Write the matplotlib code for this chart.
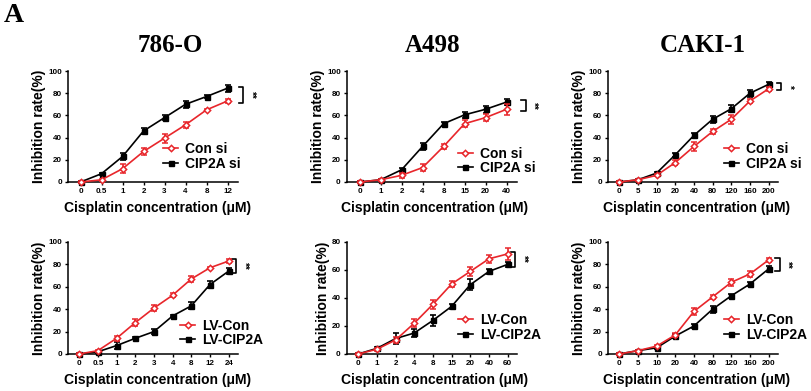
import numpy as np
import matplotlib.pyplot as plt
import matplotlib.transforms as mtransforms
from matplotlib.lines import Line2D

# ---- data ----
x_786 = ["0", "0.5", "1", "2", "3", "4", "8", "12"]
con_786 = [0, 2, 12, 27.5, 39.5, 51.5, 65, 73]
con_786_err = [0.5, 1, 4, 3, 4, 3, 1, 2]
cip_786 = [0, 7.5, 23, 46, 58, 70, 77, 84.5]
cip_786_err = [0.5, 1, 3, 3, 2, 3, 1, 3]

x_a498 = ["0", "1", "2", "4", "8", "15", "20", "40"]
con_a498 = [0, 2, 6, 13, 32, 52.5, 58, 65.5]
con_a498_err = [0.5, 1, 2, 3, 2, 3, 3, 5]
cip_a498 = [0, 2, 11, 32, 52.5, 60.5, 65.5, 72]
cip_a498_err = [0.5, 1, 2, 3, 2, 3, 3, 3]

x_caki = ["0", "5", "10", "20", "40", "80", "120", "160", "200"]
con_caki = [0, 2, 6, 17.5, 32, 45.5, 56.5, 73, 84]
con_caki_err = [0.5, 1, 1, 2, 4, 2, 4, 2, 2]
cip_caki = [0, 2, 8, 24.5, 42, 56.5, 66, 80, 88]
cip_caki_err = [0.5, 1, 1, 2, 2, 3, 3, 3, 2]

x_786_lv = ["0", "0.5", "1", "2", "3", "4", "8", "12", "24"]
lvcon_786 = [0, 3, 14, 28, 41, 52.5, 67, 77, 83]
lvcon_786_err = [0.5, 1, 2, 3, 3, 2, 3, 1, 2]
lvcip_786 = [0, 2, 7.5, 14, 20, 34, 43, 62, 74]
lvcip_786_err = [0.5, 1, 3, 1, 2, 1, 3, 3, 3]

x_a498_lv = ["0", "1", "2", "4", "8", "15", "20", "40", "60"]
lvcon_a498 = [0, 3.4, 10, 22, 35.5, 50, 59, 68, 71.5]
lvcon_a498_err = [0.5, 1, 2, 3, 3, 2, 3, 3, 4]
lvcip_a498 = [0, 4, 11, 15, 24, 34, 49.5, 59, 64]
lvcip_a498_err = [0.5, 1, 4, 3, 4, 2, 4, 2, 2]

x_caki_lv = ["0", "5", "10", "20", "40", "80", "120", "160", "200"]
lvcon_caki = [0, 3, 7, 17, 38, 51, 64, 71.5, 84]
lvcon_caki_err = [0.5, 1, 1, 2, 3, 2, 3, 3, 2]
lvcip_caki = [0, 3, 5.5, 16, 25, 40, 52, 62.5, 76]
lvcip_caki_err = [0.5, 1, 1, 2, 2, 3, 2, 2, 3]

titles = ["786-O", "A498", "CAKI-1"]
labels_si = ["Con si", "CIP2A si"]
labels_lv = ["LV-Con", "LV-CIP2A"]
stars = [["**", "**", "*"], ["**", "**", "**"]]

RED = "#e8262b"
W, H = 811, 391

fig = plt.figure(figsize=(W / 100, H / 100), dpi=100)
plt.rcParams["font.family"] = ["Liberation Sans", "DejaVu Sans"]

lefts = [68, 347, 608]
rows = [(182, 111), (354, 112)]
axw = 170

panels = [
    [(x_786, con_786, con_786_err, cip_786, cip_786_err, 100),
     (x_a498, con_a498, con_a498_err, cip_a498, cip_a498_err, 100),
     (x_caki, con_caki, con_caki_err, cip_caki, cip_caki_err, 100)],
    [(x_786_lv, lvcon_786, lvcon_786_err, lvcip_786, lvcip_786_err, 100),
     (x_a498_lv, lvcon_a498, lvcon_a498_err, lvcip_a498, lvcip_a498_err, 80),
     (x_caki_lv, lvcon_caki, lvcon_caki_err, lvcip_caki, lvcip_caki_err, 100)],
]

# legend anchor (axes fraction), bracket x -- per panel
leg_pos = [[(0.56, 0.10), (0.65, 0.06), (0.68, 0.10)],
           [(0.66, 0.06), (0.65, 0.11), (0.68, 0.11)]]
brk_x = [[1.03, 1.05, 1.02], [0.99, 0.99, 1.01]]
xlab_cx = [[158, 435, 697], [158, 435, 697]]
title_cx = [170, 433, 703]

red_kw = dict(color=RED, lw=1.2, marker="D", ms=3.2, mfc="white", mec=RED, mew=1.1)
blk_kw = dict(color="black", lw=1.2, marker="s", ms=3.6, mfc="black", mec="black")

for r, (bottom_px, h_px) in enumerate(rows):
    for c in range(3):
        cats, con, con_e, cip, cip_e, ymax = panels[r][c]
        ax = fig.add_axes([lefts[c] / W, (H - bottom_px) / H, axw / W, h_px / H])
        xs = np.arange(len(cats))
        labs = labels_si if r == 0 else labels_lv
        ax.errorbar(xs, cip, yerr=cip_e, capsize=2, elinewidth=1.2,
                    capthick=1.2, clip_on=False, zorder=3, **blk_kw)
        ax.errorbar(xs, con, yerr=con_e, capsize=2, elinewidth=1.2,
                    capthick=1.2, clip_on=False, zorder=4, **red_kw)
        ax.set_xlim(-0.6, len(cats) - 0.5)
        ax.set_ylim(0, ymax)
        ax.set_yticks(np.arange(0, ymax + 1, 20))
        ax.set_xticks(xs)
        ax.set_xticklabels(cats)
        for s in ["top", "right"]:
            ax.spines[s].set_visible(False)
        for s in ["left", "bottom"]:
            ax.spines[s].set_linewidth(1.1)
        ax.tick_params(labelsize=5.8, width=1.0, length=2.5, pad=2)
        for t in ax.get_xticklabels() + ax.get_yticklabels():
            t.set_fontweight("bold")
        ax.set_ylabel("Inhibition rate(%)", fontsize=10, fontweight="bold",
                      labelpad=1.5)
        hs = [Line2D([], [], **red_kw), Line2D([], [], **blk_kw)]
        ax.legend(hs, labs, loc="lower left",
                  bbox_to_anchor=leg_pos[r][c], frameon=False,
                  prop={"size": 10, "weight": "bold"}, handlelength=1.1,
                  handletextpad=0.5, labelspacing=0.05, borderpad=0,
                  borderaxespad=0)
        # significance bracket between the last points
        lo = min(con[-1], cip[-1]) - 1.5
        hi = max(con[-1], cip[-1]) + 1.5
        tr = mtransforms.blended_transform_factory(ax.transAxes, ax.transData)
        bx = brk_x[r][c]
        ax.plot([bx - 0.025, bx, bx, bx - 0.025], [hi, hi, lo, lo],
                color="black", lw=1.2, transform=tr, clip_on=False)
        ax.text(bx + 0.045, (lo + hi) / 2, stars[r][c], transform=tr,
                rotation=-90, fontsize=7, fontweight="bold",
                ha="center", va="center")
        fig.text(xlab_cx[r][c] / W, 1 - (bottom_px + 26) / H,
                 "Cisplatin concentration (\u03bcM)", fontsize=10,
                 fontweight="bold", ha="center", va="center")
        if r == 0:
            fig.text(title_cx[c] / W, 1 - 45 / H, titles[c],
                     family="Liberation Serif", fontsize=18,
                     fontweight="bold", ha="center", va="center")

fig.text(14 / W, 1 - 16 / H, "A", family="Liberation Serif", fontsize=20,
         fontweight="bold", ha="center", va="center")

fig.savefig("out.png", dpi=100)
